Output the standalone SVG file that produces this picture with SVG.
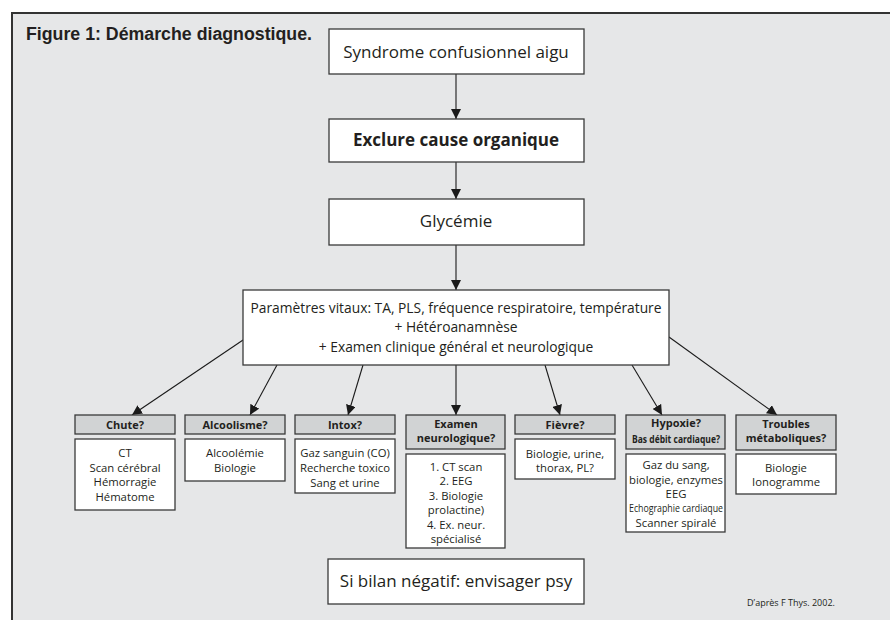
<svg xmlns="http://www.w3.org/2000/svg" width="890" height="620" viewBox="0 0 890 620">
<defs>
<marker id="ah" viewBox="0 0 10 10" refX="10" refY="5" markerWidth="10" markerHeight="10" markerUnits="userSpaceOnUse" orient="auto">
<path d="M0,0 L10,5 L0,10 z" fill="#1a1a1a"/>
</marker>
<style>
.box{fill:#fff;stroke:#3a3a3a;stroke-width:1.3}
.hdr{fill:#d1d3d4;stroke:#3a3a3a;stroke-width:1.3}
.big{font-family:"Open Sans","Liberation Sans",sans-serif;font-size:17px;fill:#231f20;text-anchor:middle}
.mid{font-family:"Open Sans","Liberation Sans",sans-serif;font-size:13.8px;fill:#231f20;text-anchor:middle}
.h{font-family:"Open Sans","Liberation Sans",sans-serif;font-size:11px;font-weight:bold;fill:#231f20;text-anchor:middle}
.t{font-family:"Open Sans","Liberation Sans",sans-serif;font-size:11.3px;fill:#231f20;text-anchor:middle}
.c line{stroke:#1a1a1a;stroke-width:1.1;marker-end:url(#ah)}
</style>
</defs>
<rect x="0" y="0" width="890" height="620" fill="#fff"/>
<rect x="12" y="13" width="880" height="610" fill="#e6e7e8"/>
<path d="M12,621 L12,13 L892,13" fill="none" stroke="#333" stroke-width="2"/>
<text x="26" y="40" font-family="'Liberation Sans',sans-serif" font-size="18" font-weight="bold" fill="#231f20" textLength="286" lengthAdjust="spacingAndGlyphs">Figure 1: Démarche diagnostique.</text>

<g class="c">
<line x1="456" y1="74" x2="456" y2="119"/>
<line x1="456" y1="162" x2="456" y2="199"/>
<line x1="456" y1="245" x2="456" y2="290"/>
<line x1="246" y1="338" x2="132" y2="415"/>
<line x1="277" y1="365" x2="250" y2="415"/>
<line x1="363" y1="365" x2="348" y2="415"/>
<line x1="456" y1="365" x2="456" y2="415"/>
<line x1="545" y1="365" x2="560" y2="415"/>
<line x1="632" y1="365" x2="662" y2="415"/>
<line x1="669" y1="337" x2="777" y2="415"/>
</g>

<g id="n1"><rect class="box" x="329" y="29" width="255" height="45"/><text class="big" x="456" y="58">Syndrome confusionnel aigu</text></g>
<g id="n2"><rect class="box" x="329" y="119" width="255" height="43"/><text class="big" x="456" y="146" font-weight="bold">Exclure cause organique</text></g>
<g id="n3"><rect class="box" x="329" y="199" width="255" height="46"/><text class="big" x="456" y="227">Glycémie</text></g>
<g id="n4"><rect class="box" x="243" y="290" width="426" height="75"/>
<text class="mid" x="456" y="313">Paramètres vitaux: TA, PLS, fréquence respiratoire, température</text>
<text class="mid" x="456" y="332">+ Hétéroanamnèse</text>
<text class="mid" x="456" y="352">+ Examen clinique général et neurologique</text></g>

<g id="chute"><rect class="hdr" x="75" y="415" width="100" height="19"/><text class="h" x="125" y="429">Chute?</text>
<rect class="box" x="75" y="439" width="100" height="71"/>
<text class="t" x="125" y="457">CT</text><text class="t" x="125" y="472">Scan cérébral</text><text class="t" x="125" y="486">Hémorragie</text><text class="t" x="125" y="501">Hématome</text></g>

<g id="alcool"><rect class="hdr" x="185" y="415" width="100" height="19"/><text class="h" x="235" y="429">Alcoolisme?</text>
<rect class="box" x="185" y="439" width="100" height="42"/>
<text class="t" x="235" y="457">Alcoolémie</text><text class="t" x="235" y="472">Biologie</text></g>

<g id="intox"><rect class="hdr" x="295" y="415" width="100" height="19"/><text class="h" x="345" y="429">Intox?</text>
<rect class="box" x="295" y="439" width="100" height="54"/>
<text class="t" x="345" y="457">Gaz sanguin (CO)</text><text class="t" x="345" y="472">Recherche toxico</text><text class="t" x="345" y="487">Sang et urine</text></g>

<g id="examen"><rect class="hdr" x="406" y="415" width="99" height="34"/><text class="h" x="456" y="428">Examen</text><text class="h" x="456" y="442">neurologique?</text>
<rect class="box" x="406" y="454" width="99" height="94"/>
<text class="t" x="456" y="471">1. CT scan</text><text class="t" x="456" y="485">2. EEG</text><text class="t" x="456" y="500">3. Biologie</text><text class="t" x="456" y="514">prolactine)</text><text class="t" x="456" y="529">4. Ex. neur.</text><text class="t" x="456" y="543">spécialisé</text></g>

<g id="fievre"><rect class="hdr" x="515" y="415" width="100" height="19"/><text class="h" x="565" y="429">Fièvre?</text>
<rect class="box" x="515" y="439" width="100" height="40"/>
<text class="t" x="565" y="458">Biologie, urine,</text><text class="t" x="565" y="472">thorax, PL?</text></g>

<g id="hypoxie"><rect class="hdr" x="626" y="415" width="99" height="34"/><text class="h" x="676" y="427" font-size="12">Hypoxie?</text><text class="h" x="676" y="443" font-size="9" textLength="88" lengthAdjust="spacingAndGlyphs">Bas débit cardiaque?</text>
<rect class="box" x="626" y="454" width="99" height="78"/>
<text class="t" x="676" y="469">Gaz du sang,</text><text class="t" x="676" y="484">biologie, enzymes</text><text class="t" x="676" y="498">EEG</text><text class="t" x="676" y="512" font-size="9.5" textLength="94" lengthAdjust="spacingAndGlyphs">Echographie cardiaque</text><text class="t" x="676" y="527">Scanner spiralé</text></g>

<g id="troubles"><rect class="hdr" x="736" y="415" width="100" height="35"/><text class="h" x="786" y="428">Troubles</text><text class="h" x="786" y="442">métaboliques?</text>
<rect class="box" x="736" y="454" width="100" height="40"/>
<text class="t" x="786" y="472">Biologie</text><text class="t" x="786" y="486">Ionogramme</text></g>

<g id="n5"><rect class="box" x="328" y="559" width="256" height="45"/><text class="big" x="456" y="587">Si bilan négatif: envisager psy</text></g>

<text x="791" y="606" font-family="'Open Sans','Liberation Sans',sans-serif" font-size="9" fill="#231f20" text-anchor="middle">D’après F Thys. 2002.</text>
</svg>
